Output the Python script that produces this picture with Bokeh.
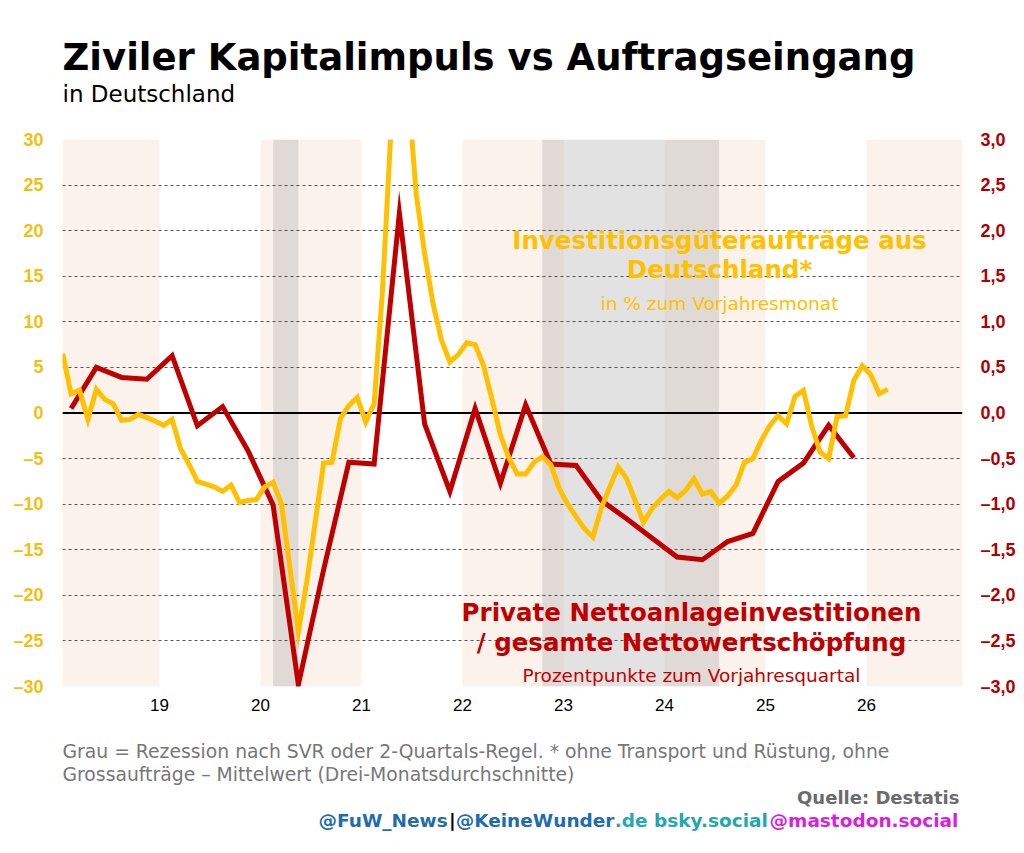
from bokeh.plotting import figure
from bokeh.layouts import column
from bokeh.models import Range1d, LinearAxis, FixedTicker, Span
from bokeh.core.properties import value
from bokeh.embed import file_html
from bokeh.resources import INLINE

# ---------------- data ----------------
# Investitionsgüteraufträge aus Deutschland, % zum Vorjahresmonat (monthly, Jan 2018 .. Mar 2026)
orders = [6.5, 2.1, 2.5, -0.7, 2.6, 1.5, 1.0, -0.8, -0.7, -0.15, -0.5, -0.9,
          -1.35, -0.7, -3.9, -5.6, -7.5, -7.8, -8.1, -8.6, -7.9, -9.8, -9.6, -9.5,
          -8.1, -7.6, -10.0, -17.0, -24.0, -18.5, -12.0, -5.5, -5.4, -0.6, 0.8, 1.7,
          -1.0, 1.0, 13.5, 31.0, 40.0, 36.0, 24.0, 17.5, 12.0, 8.0, 5.6, 6.4,
          7.7, 7.5, 5.2, 1.5, -2.4, -4.9, -6.7, -6.7, -5.4, -4.8, -5.7, -8.3,
          -10.0, -11.4, -12.7, -13.6, -10.4, -8.1, -5.9, -7.2, -9.6, -12.0, -10.5, -9.5,
          -8.6, -9.3, -8.5, -7.2, -8.9, -8.6, -9.9, -9.1, -7.9, -5.4, -5.0, -3.0,
          -1.4, -0.3, -1.2, 1.8, 2.5, -1.5, -4.3, -5.0, -0.4, -0.3, 3.6, 5.2,
          4.2, 2.1, 2.6]
# Private Nettoanlageinvestitionen / gesamte Nettowertschöpfung, Prozentpunkte zum Vorjahresquartal (Q1 2018 .. Q4 2025)
invest = [0.05, 0.50, 0.39, 0.37, 0.63, -0.14, 0.07, -0.41,
          -1.01, -2.98, -1.72, -0.54, -0.56, 2.19, -0.12, -0.86,
          0.05, -0.77, 0.09, -0.56, -0.575, -0.96, -1.16, -1.37,
          -1.58, -1.61, -1.41, -1.32, -0.75, -0.55, -0.135, -0.49]

month_x = [2018 + (i + 0.5) / 12 for i in range(len(orders))]
quarter_x = [2018 + (3 * q + 1.5) / 12 for q in range(len(invest))]

shaded_years = [2018, 2020, 2022, 2024, 2026]
recession_start = [2020.125, 2022.79]
recession_end = [2020.375, 2024.54]

left_ticks = [-30, -25, -20, -15, -10, -5, 0, 5, 10, 15, 20, 25, 30]
left_labels = ["–30", "–25", "–20", "–15", "–10", "–5", "0", "5", "10", "15", "20", "25", "30"]
right_ticks = [-3.0, -2.5, -2.0, -1.5, -1.0, -0.5, 0.0, 0.5, 1.0, 1.5, 2.0, 2.5, 3.0]
right_labels = ["–3,0", "–2,5", "–2,0", "–1,5", "–1,0", "–0,5", "0,0", "0,5", "1,0", "1,5", "2,0", "2,5", "3,0"]
year_ticks = [2019, 2020, 2021, 2022, 2023, 2024, 2025, 2026]
year_labels = ["19", "20", "21", "22", "23", "24", "25", "26"]

X0, X1 = 2018.04, 2026.95
Y0, Y1 = -30, 30

YELLOW = "#ffc000"
RED = "#c00000"

# page geometry
W = 1022
BL, BR = 62, 60            # left / right borders (frame spans x 62..962)
FRAME_W = W - BL - BR
HEAD_H = 129
MAIN_TOP, FRAME_H, MAIN_BOT = 10, 547, 40
FOOT_TOP = HEAD_H + MAIN_TOP + FRAME_H + MAIN_BOT
FOOT_H = 125
BASE_SHIFT = 0.34  # rendered alphabetic baseline sits this many em below the anchor


def txt(fig, x, y, s, size, color, bold=False, align="left", font="DejaVu Sans"):
    fig.text(x=[x], y=[y], text=[s], text_font=value(font), text_font_size=value(f"{size}px"),
             text_font_style=value("bold" if bold else "normal"), text_color=color,
             text_align=value(align), text_baseline=value("alphabetic"))


def ptxt(fig, x, base, s, size, color, bold=False, align="left", font="DejaVu Sans"):
    # header / footer: y range equals page pixels
    txt(fig, x, base - BASE_SHIFT * size, s, size, color, bold, align, font)


def blank(height, top):
    f = figure(width=W, height=height, title=None,
               x_range=Range1d(BL, BL + FRAME_W), y_range=Range1d(top + height, top),
               output_backend="svg", toolbar_location=None,
               min_border_left=BL, min_border_right=BR, min_border_top=0, min_border_bottom=0,
               x_axis_location=None, y_axis_location=None)
    f.grid.visible = False
    f.outline_line_color = None
    return f


# ---------------- header ----------------
head = blank(HEAD_H, 0)
ptxt(head, 62, 70, "Ziviler Kapitalimpuls vs Auftragseingang", 37, "black", bold=True)
ptxt(head, 62, 101, "in Deutschland", 23, "black")

# ---------------- main chart ----------------
p = figure(width=W, height=MAIN_TOP + FRAME_H + MAIN_BOT, title=None,
           x_range=Range1d(X0, X1), y_range=Range1d(Y0, Y1),
           output_backend="svg", toolbar_location=None,
           min_border_left=BL, min_border_right=BR, min_border_top=MAIN_TOP, min_border_bottom=MAIN_BOT)
p.extra_y_ranges = {"r": Range1d(-3, 3)}
p.outline_line_color = None
p.background_fill_color = "white"
p.border_fill_color = "white"

lefts = [max(y, X0) for y in shaded_years]
rights = [min(y + 1, X1) for y in shaded_years]
bands = p.quad(left=lefts, right=rights, bottom=Y0, top=Y1,
               fill_color="#fcf2ec", line_color=None)
bands.level = "image"
rec = p.quad(left=recession_start, right=recession_end, bottom=Y0, top=Y1,
             fill_color="#b0b0b0", fill_alpha=0.36, line_color=None)
rec.level = "image"

p.xgrid.visible = False
p.ygrid.ticker = FixedTicker(ticks=left_ticks)
p.ygrid.grid_line_color = "#555555"
p.ygrid.grid_line_dash = "3 3"
p.ygrid.grid_line_width = 1

p.add_layout(Span(location=0, dimension="width", line_color="black", line_width=2, level="underlay"))


def style_axis(ax, ticks, labels, standoff, size, color, bold):
    ax.ticker = FixedTicker(ticks=ticks)
    ax.major_label_overrides = dict(zip(ticks, labels))
    ax.axis_line_color = None
    ax.major_tick_line_color = None
    ax.minor_tick_line_color = None
    ax.major_tick_out = 0
    ax.major_tick_in = 0
    ax.minor_tick_out = 0
    ax.minor_tick_in = 0
    ax.major_label_standoff = standoff
    ax.major_label_text_font = "Liberation Sans"
    ax.major_label_text_font_style = "bold" if bold else "normal"
    ax.major_label_text_font_size = size
    ax.major_label_text_color = color


style_axis(p.xaxis[0], year_ticks, year_labels, 12, "17px", "black", False)
style_axis(p.yaxis[0], left_ticks, left_labels, 19, "18px", "#f3c012", True)
ra = LinearAxis(y_range_name="r")
style_axis(ra, right_ticks, right_labels, 18, "18px", "#b00000", True)
p.add_layout(ra, "right")

p.line(quarter_x, invest, y_range_name="r", line_color=RED, line_width=5, line_join="miter")
p.line(month_x, orders, line_color=YELLOW, line_width=5, line_join="miter")

# series annotations, positioned in page pixels and converted to data units
FT = HEAD_H + MAIN_TOP


def px2x(px):
    return X0 + (px - BL) * (X1 - X0) / FRAME_W


def px2y(py):
    return Y1 - (py - FT) * (Y1 - Y0) / FRAME_H


def note(s, px, base, size, color, bold=False):
    txt(p, px2x(px), px2y(base - BASE_SHIFT * size), s, size, color, bold=bold, align="center")


note("Investitionsgüteraufträge aus", 719, 248.5, 24.5, YELLOW, bold=True)
note("Deutschland*", 719, 277, 24.5, YELLOW, bold=True)
note("in % zum Vorjahresmonat", 719, 309, 18.5, YELLOW)
note("Private Nettoanlageinvestitionen", 691, 620, 24.5, RED, bold=True)
note("/ gesamte Nettowertschöpfung", 691, 650, 24.5, RED, bold=True)
note("Prozentpunkte zum Vorjahresquartal", 691, 681, 18.5, RED)

# ---------------- footer ----------------
foot = blank(FOOT_H, FOOT_TOP)
ptxt(foot, 62, 757, "Grau = Rezession nach SVR oder 2-Quartals-Regel. * ohne Transport und Rüstung, ohne",
     18.8, "#777777")
ptxt(foot, 62, 780, "Grossaufträge – Mittelwert (Drei-Monatsdurchschnitte)", 18.8, "#777777")
ptxt(foot, 959, 803, "Quelle: Destatis", 18, "#6b6b6b", bold=True, align="right")

handle_parts = ["@FuW_News", "|", "@KeineWunder", ".de", "bsky.social", "@mastodon.social"]
handle_x = [318, 448.4, 455.2, 614.3, 653.5, 769.1]
handle_colors = ["#1f6db0", "#000000", "#1f6db0", "#26a9b5", "#22a6b0", "#d81fe0"]
for t, hx, hc in zip(handle_parts, handle_x, handle_colors):
    ptxt(foot, hx, 826, t, 18.5, hc, bold=True)

layout = column(head, p, foot, spacing=0)
open("out.html", "w").write(file_html(layout, INLINE))
